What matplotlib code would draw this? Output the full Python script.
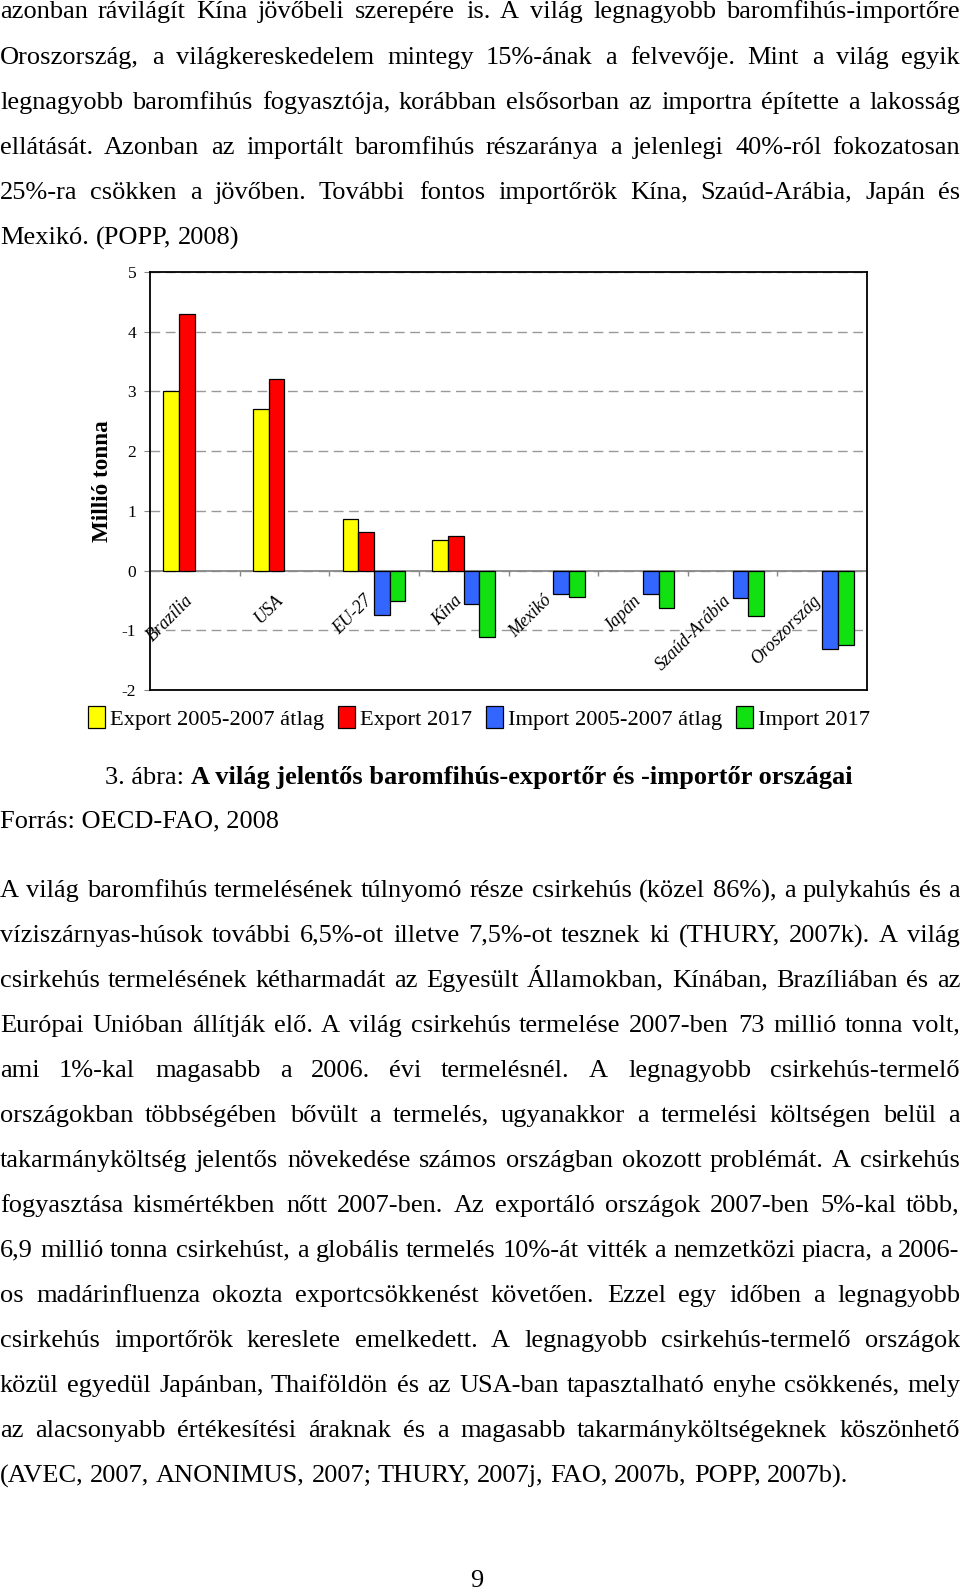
import numpy as np
import matplotlib
matplotlib.use('Agg')
import matplotlib.pyplot as plt
from matplotlib.font_manager import FontProperties
from matplotlib.backends.backend_agg import get_hinting_flag

plt.rcParams['font.family'] = ['Liberation Serif', 'DejaVu Serif']
plt.rcParams['axes.unicode_minus'] = False

# chart data (million tonnes), nan = no bar
categories = ['Brazília', 'USA', 'EU-27', 'Kína', 'Mexikó', 'Japán', 'Szaúd-Arábia', 'Oroszország']
export_avg = [3.0, 2.7, 0.86, 0.51, np.nan, np.nan, np.nan, np.nan]
export_2017 = [4.3, 3.2, 0.64, 0.58, np.nan, np.nan, np.nan, np.nan]
import_avg = [np.nan, np.nan, -0.74, -0.56, -0.40, -0.40, -0.46, -1.32]
import_2017 = [np.nan, np.nan, -0.51, -1.11, -0.45, -0.62, -0.76, -1.25]
series_names = ['Export 2005-2007 átlag', 'Export 2017', 'Import 2005-2007 átlag', 'Import 2017']
series_colors = ['#FFFF00', '#FF0000', '#3366FF', '#11E011']

para1 = [
    "azonban rávilágít Kína jövőbeli szerepére is. A világ legnagyobb baromfihús-importőre",
    "Oroszország, a világkereskedelem mintegy 15%-ának a felvevője. Mint a világ egyik",
    "legnagyobb baromfihús fogyasztója, korábban elsősorban az importra építette a lakosság",
    "ellátását. Azonban az importált baromfihús részaránya a jelenlegi 40%-ról fokozatosan",
    "25%-ra csökken a jövőben. További fontos importőrök Kína, Szaúd-Arábia, Japán és",
    "Mexikó. (POPP, 2008)",
]
para2 = [
    "A világ baromfihús termelésének túlnyomó része csirkehús (közel 86%), a pulykahús és a",
    "víziszárnyas-húsok további 6,5%-ot illetve 7,5%-ot tesznek ki (THURY, 2007k). A világ",
    "csirkehús termelésének kétharmadát az Egyesült Államokban, Kínában, Brazíliában és az",
    "Európai Unióban állítják elő. A világ csirkehús termelése 2007-ben 73 millió tonna volt,",
    "ami 1%-kal magasabb a 2006. évi termelésnél. A legnagyobb csirkehús-termelő",
    "országokban többségében bővült a termelés, ugyanakkor a termelési költségen belül a",
    "takarmányköltség jelentős növekedése számos országban okozott problémát. A csirkehús",
    "fogyasztása kismértékben nőtt 2007-ben. Az exportáló országok 2007-ben 5%-kal több,",
    "6,9 millió tonna csirkehúst, a globális termelés 10%-át vitték a nemzetközi piacra, a 2006-",
    "os madárinfluenza okozta exportcsökkenést követően. Ezzel egy időben a legnagyobb",
    "csirkehús importőrök kereslete emelkedett. A legnagyobb csirkehús-termelő országok",
    "közül egyedül Japánban, Thaiföldön és az USA-ban tapasztalható enyhe csökkenés, mely",
    "az alacsonyabb értékesítési áraknak és a magasabb takarmányköltségeknek köszönhető",
    "(AVEC, 2007, ANONIMUS, 2007; THURY, 2007j, FAO, 2007b, POPP, 2007b).",
]
caption_num = "3. ábra: "
caption_title = "A világ jelentős baromfihús-exportőr és -importőr országai"
source = "Forrás: OECD-FAO, 2008"

W, H = 960, 1590
BODY = 19.0
fig = plt.figure(figsize=(W / 100, H / 100), dpi=100)
renderer = fig.canvas.get_renderer()


def px(x, y):
    return x / W, 1 - y / H


def text_width(s, **kw):
    t = fig.text(0, 0, s, **kw)
    w = t.get_window_extent(renderer).width
    t.remove()
    return w


def base_err(s, weight='normal'):
    # Agg places each text bitmap with some integer rounding; estimate it so that
    # separately drawn words share the same baseline
    try:
        prop = FontProperties(family=plt.rcParams['font.family'], size=BODY, weight=weight)
        font = renderer._prepare_font(prop)
        font.set_text(s, 0, flags=get_hinting_flag())
        h26 = font.get_width_height()[1]
        desc = font.get_descent()
        ymax = h26 - desc
        return round(desc / 64) + ymax // 64 - h26 // 64
    except Exception:
        return 0


E_REF = base_err('x')


def word(x, y, s, **kw):
    dy = base_err(s, kw.get('fontweight', 'normal')) - E_REF
    fig.text(*px(x, round(y) - dy), s, fontsize=BODY, va='baseline', ha='left', **kw)


def justified(lines, y0, step):
    for i, line in enumerate(lines):
        y = y0 + i * step
        words = line.split(' ')
        widths = [text_width(w, fontsize=BODY) for w in words]
        if i == len(lines) - 1:
            gap = text_width('a a', fontsize=BODY) - text_width('aa', fontsize=BODY)
        else:
            gap = (W - sum(widths)) / (len(words) - 1)
        x = 0
        for w, wd in zip(words, widths):
            word(round(x), y, w)
            x += wd + gap


justified(para1, 18.5, 45.05)
justified(para2, 897, 45.0)

# chart
ax = fig.add_axes([150 / W, 1 - 690 / H, 717 / W, 418 / H])
x = np.arange(len(categories))
bw = 0.175
for k, (vals, name, col) in enumerate(zip([export_avg, export_2017, import_avg, import_2017],
                                          series_names, series_colors)):
    vals = np.array(vals, dtype=float)
    m = ~np.isnan(vals)
    ax.bar(x[m] + (k - 1.5) * bw, vals[m], bw, color=col, edgecolor='black',
           linewidth=0.9, label=name, zorder=3)

ax.set_xlim(-0.5, len(categories) - 0.5)
ax.set_ylim(-2, 5)
ax.set_yticks(range(-2, 6))
ax.set_xticks([])
ax.tick_params(axis='y', labelsize=12.5, length=4, color='#888888', pad=6)
ax.yaxis.grid(True, linestyle=(0, (7, 4)), color='#999999', linewidth=1)
ax.set_axisbelow(True)
ax.axhline(0, color='#888888', linewidth=1.3, zorder=2)
ax.vlines(x[1:] - 0.5, -0.09, 0, color='#888888', linewidth=1, zorder=2)
for sp in ax.spines.values():
    sp.set_linewidth(1.3)
    sp.set_zorder(5)

for i, cat in enumerate(categories):
    ax.text(i + 0.02, -0.36, cat, rotation=45, ha='right', va='top',
            style='italic', fontsize=12.9, zorder=4)

fig.text(*px(103, 481), 'Millió tonna', rotation=90, fontsize=16.7,
         fontweight='bold', ha='center', va='center')

handles, labels = ax.get_legend_handles_labels()
fig.legend(handles, labels, loc='center', bbox_to_anchor=px(479, 718), ncol=4,
           frameon=False, fontsize=16.2, handlelength=0.75, handleheight=1.1,
           handletextpad=0.25, columnspacing=0.6, borderpad=0)

# caption, source, page number
w1 = text_width(caption_num, fontsize=BODY)
w2 = text_width(caption_title, fontsize=BODY, fontweight='bold')
cx = 479 - (w1 + w2) / 2
word(cx, 784, caption_num)
word(cx + w1, 784, caption_title, fontweight='bold')
word(0, 828, source)
fig.text(*px(477, 1587), '9', fontsize=BODY, va='baseline', ha='center')

fig.savefig('out.png', dpi=100)
